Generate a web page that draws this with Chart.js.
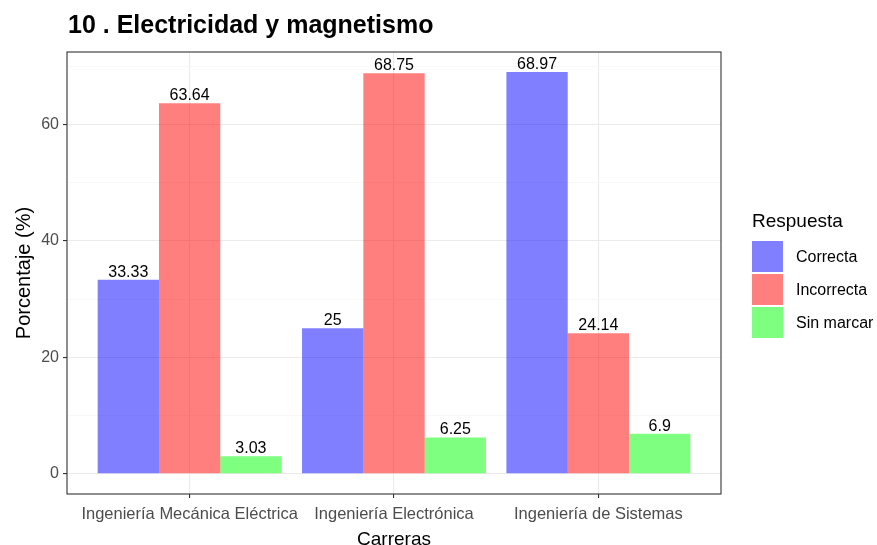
<!DOCTYPE html>
<html><head><meta charset="utf-8">
<script src="https://cdn.jsdelivr.net/npm/chart.js@4"></script>
<style>html,body{margin:0;padding:0;background:#fff;} canvas{display:block;}</style>
</head><body>
<canvas id="c" width="877" height="545"></canvas>
<script>
const chartTitle = '10 . Electricidad y magnetismo';
const categories = ['Ingeniería Mecánica Eléctrica', 'Ingeniería Electrónica', 'Ingeniería de Sistemas'];
const seriesNames = ['Correcta', 'Incorrecta', 'Sin marcar'];
const correcta = [33.33, 25, 68.97];
const incorrecta = [63.64, 68.75, 24.14];
const sinMarcar = [3.03, 6.25, 6.9];
const yTickLabels = [0, 20, 40, 60];
const xTitle = 'Carreras';
const yTitle = 'Porcentaje (%)';
const legendTitle = 'Respuesta';
const colors = ['rgba(0,0,255,0.5)', 'rgba(255,0,0,0.5)', 'rgba(0,255,0,0.5)'];

const FONT = '"Liberation Sans", Arial, Helvetica, sans-serif';
Chart.defaults.font.family = FONT;

const allSeries = [correcta, incorrecta, sinMarcar];
const dataMax = Math.max(...allSeries.flat());
const pad = 0.05 * dataMax;

const datasets = allSeries.map((vals, k) => ({
  label: seriesNames[k],
  data: vals.map((v, i) => ({x: i + 1, y: v})),
  backgroundColor: colors[k],
  borderWidth: 0,
  barPercentage: 1,
  categoryPercentage: 0.9
}));

const decor = {
  id: 'decor',
  afterDatasetsDraw(chart) {
    const ctx = chart.ctx;
    ctx.save();
    ctx.font = '16px ' + FONT;
    ctx.fillStyle = '#000';
    ctx.textAlign = 'center';
    ctx.textBaseline = 'alphabetic';
    chart.data.datasets.forEach((ds, di) => {
      const meta = chart.getDatasetMeta(di);
      meta.data.forEach((bar, i) => {
        ctx.fillText(String(ds.data[i].y), bar.x, bar.y - 3);
      });
    });
    ctx.restore();
  },
  afterDraw(chart) {
    const ctx = chart.ctx;
    const a = chart.chartArea;
    ctx.save();
    // panel border
    ctx.strokeStyle = '#333333';
    ctx.lineWidth = 1.1;
    ctx.strokeRect(a.left, a.top, a.right - a.left, a.bottom - a.top);
    // title
    ctx.fillStyle = '#000';
    ctx.font = 'bold 25px ' + FONT;
    ctx.textAlign = 'left';
    ctx.textBaseline = 'alphabetic';
    ctx.fillText(chartTitle, a.left + 1, 33);
    // legend
    const lx = a.right + 31;
    ctx.font = '19px ' + FONT;
    ctx.fillText(legendTitle, lx, 227);
    ctx.font = '16px ' + FONT;
    ctx.textBaseline = 'middle';
    chart.data.datasets.forEach((ds, i) => {
      const ky = 241 + i * 33;
      ctx.fillStyle = ds.backgroundColor;
      ctx.fillRect(lx, ky, 31, 31);
      ctx.fillStyle = '#000';
      ctx.fillText(ds.label, lx + 44, ky + 16.5);
    });
    ctx.restore();
  }
};

new Chart(document.getElementById('c'), {
  type: 'bar',
  data: {datasets},
  plugins: [decor],
  options: {
    responsive: false,
    devicePixelRatio: 1,
    animation: false,
    layout: {padding: {left: 0, right: 156, top: 52, bottom: 0}},
    plugins: {legend: {display: false}, title: {display: false}, tooltip: {enabled: false}},
    scales: {
      x: {
        type: 'linear',
        min: 0.4,
        max: categories.length + 0.6,
        offset: false,
        ticks: {
          stepSize: 1, includeBounds: false, autoSkip: false, maxRotation: 0, minRotation: 0,
          color: '#4D4D4D', font: {size: 16.5}, padding: 7,
          callback: v => categories[Math.round(v) - 1] ?? ''
        },
        grid: {offset: false, color: '#EBEBEB', lineWidth: 1.1, tickLength: 4, tickColor: '#333333', drawTicks: true},
        border: {display: false},
        title: {display: true, text: xTitle, color: '#000', font: {size: 19, lineHeight: 0.6}, padding: 0},
        afterFit(s) { s.height = 51; }
      },
      y: {
        type: 'linear',
        min: -pad,
        max: dataMax + pad,
        ticks: {
          stepSize: 10, includeBounds: false, color: '#4D4D4D', font: {size: 16}, padding: 4,
          callback: v => yTickLabels.includes(v) ? String(v) : ''
        },
        grid: {
          color: c => yTickLabels.includes(c.tick && c.tick.value) ? '#EBEBEB' : '#F5F5F5',
          lineWidth: c => yTickLabels.includes(c.tick && c.tick.value) ? 1.1 : 0.7,
          tickColor: c => yTickLabels.includes(c.tick && c.tick.value) ? '#333333' : 'rgba(0,0,0,0)',
          tickLength: 4, drawTicks: true
        },
        border: {display: false},
        title: {display: true, text: yTitle, color: '#000', font: {size: 20}, padding: {top: 12, bottom: 0}},
        afterFit(s) { s.width = 67; }
      }
    }
  }
});
</script>
</body></html>
